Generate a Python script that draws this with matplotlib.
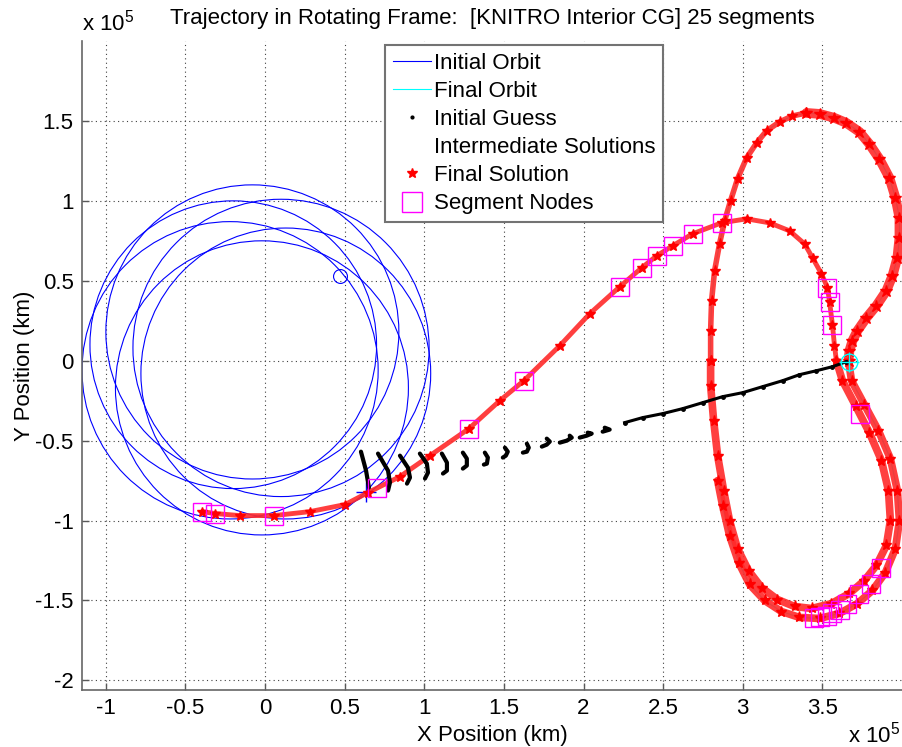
import numpy as np
import matplotlib.pyplot as plt
from matplotlib.patches import Circle
from matplotlib.lines import Line2D
from matplotlib.ticker import FuncFormatter

plt.rcParams['font.family'] = ['Liberation Sans', 'DejaVu Sans']
plt.rcParams['mathtext.fontset'] = 'custom'
plt.rcParams['mathtext.rm'] = 'Liberation Sans'
plt.rcParams['font.size'] = 16

SCALE = 1e5  # all values below are in units of 1e5 km

x_ticks = [-1, -0.5, 0, 0.5, 1, 1.5, 2, 2.5, 3, 3.5]
y_ticks = [-2, -1.5, -1, -0.5, 0, 0.5, 1, 1.5]

# initial (Earth) orbit loops: centres and radii
orbit_cx = [-0.08, 0.10, 0.13, -0.02, -0.22, -0.20]
orbit_cy = [0.18, 0.08, -0.08, -0.17, -0.06, 0.10]
orbit_r = [0.92, 0.93, 0.91, 0.92, 0.93, 0.90]
orbit_start = (0.47, 0.53)
orbit_end = (0.635, -0.823)
final_orbit_pt = (3.67, -0.005)

# final solution: Earth departure -> lunar approach
transfer_x = [-0.395, -0.314, -0.157, 0.056, 0.282, 0.502, 0.646, 0.847, 1.035, 1.280,
              1.474, 1.625, 1.851, 2.039, 2.227, 2.365, 2.459, 2.560, 2.685, 2.867,
              3.024, 3.168, 3.294, 3.388, 3.438, 3.494, 3.532, 3.545, 3.563, 3.576, 3.588]
transfer_y = [-0.944, -0.956, -0.969, -0.969, -0.944, -0.900, -0.825, -0.725, -0.594, -0.425,
              -0.250, -0.125, 0.094, 0.294, 0.4625, 0.581, 0.656, 0.719, 0.794, 0.8625,
              0.8875, 0.8625, 0.8125, 0.731, 0.644, 0.544, 0.456, 0.369, 0.225, 0.094, 0.0]

# final solution: first pass of the lower lunar loop
low1_x = [3.588, 3.626, 3.708, 3.795, 3.871, 3.915, 3.927, 3.902, 3.839, 3.764,
          3.670, 3.557, 3.432, 3.325, 3.218, 3.118, 3.036, 2.967, 2.917, 2.880,
          2.842, 2.817, 2.798, 2.798]
low1_y = [0.0, -0.125, -0.281, -0.450, -0.625, -0.8125, -1.0, -1.156, -1.281, -1.375,
          -1.456, -1.519, -1.550, -1.5375, -1.494, -1.419, -1.3125, -1.175, -1.0, -0.8125,
          -0.594, -0.375, -0.156, 0.0]
# upper lunar loop, rising (left) side
up_left_x = [2.798, 2.798, 2.804, 2.823, 2.854, 2.886, 2.923, 2.967, 3.024, 3.087, 3.149,
             3.231, 3.312, 3.400]
up_left_y = [0.0, 0.1875, 0.375, 0.5625, 0.731, 0.875, 1.0, 1.1375, 1.269, 1.3625, 1.4375,
             1.494, 1.531, 1.550]
# upper lunar loop, descending (right) side
up_right_x = [3.400, 3.482, 3.576, 3.651, 3.733, 3.795, 3.858, 3.921,
              3.959, 3.984, 3.984, 3.971, 3.940, 3.902, 3.839, 3.777, 3.720, 3.689,
              3.670, 3.664]
up_right_y = [1.550, 1.544, 1.519, 1.4875, 1.431, 1.356, 1.2625, 1.144,
              1.019, 0.894, 0.769, 0.644, 0.531, 0.4375, 0.344, 0.269, 0.1875, 0.125,
              0.0625, 0.0]
# second pass of the lower lunar loop
low2_x = [3.664, 3.683, 3.764, 3.852, 3.927, 3.971, 3.984, 3.959, 3.896, 3.814, 3.720,
          3.607, 3.482, 3.356, 3.243, 3.137, 3.043, 2.974, 2.917, 2.873, 2.842]
low2_y = [0.0, -0.125, -0.275, -0.4375, -0.6125, -0.8125, -1.0, -1.175, -1.325, -1.4375, -1.519,
          -1.581, -1.6125, -1.606, -1.569, -1.500, -1.400, -1.2625, -1.094, -0.906, -0.750]

# initial guess: short arcs per segment, then the continuous tail
guess_arcs_x = [[0.602, 0.634, 0.652], [0.709, 0.772, 0.784, 0.772],
                [0.847, 0.897, 0.910, 0.891], [0.972, 1.016, 1.023, 1.004],
                [1.110, 1.142, 1.142, 1.117], [1.242, 1.267, 1.267, 1.242],
                [1.380, 1.399, 1.393, 1.374], [1.506, 1.524, 1.512, 1.493],
                [1.644, 1.656, 1.644, 1.619], [1.769, 1.788, 1.769, 1.738],
                [1.913, 1.926, 1.895, 1.851], [2.026, 2.051, 2.020, 1.976],
                [2.133, 2.164, 2.120]]
guess_arcs_y = [[-0.569, -0.688, -0.794], [-0.581, -0.688, -0.7625, -0.8125],
                [-0.594, -0.669, -0.731, -0.769], [-0.581, -0.644, -0.700, -0.7375],
                [-0.581, -0.6375, -0.6875, -0.706], [-0.575, -0.6125, -0.656, -0.675],
                [-0.575, -0.606, -0.644, -0.650], [-0.544, -0.569, -0.594, -0.606],
                [-0.519, -0.544, -0.569, -0.575], [-0.4875, -0.506, -0.525, -0.5375],
                [-0.469, -0.481, -0.500, -0.5125], [-0.450, -0.456, -0.469, -0.481],
                [-0.419, -0.431, -0.444]]
guess_tail_x = [2.258, 2.371, 2.497, 2.622, 2.748, 2.873, 2.999, 3.124, 3.250, 3.356,
                3.463, 3.563, 3.651]
guess_tail_y = [-0.3875, -0.356, -0.331, -0.300, -0.2625, -0.225, -0.200, -0.1625, -0.125, -0.0875,
                -0.0625, -0.0375, -0.006]

# segment nodes
node_x = [-0.395, -0.314, 0.056, 0.703, 1.280, 1.625, 2.227, 2.365, 2.459, 2.560,
          2.685, 2.867, 3.532, 3.545, 3.563, 3.739, 3.871, 3.808, 3.733, 3.657,
          3.610, 3.563, 3.526, 3.482, 3.450]
node_y = [-0.944, -0.956, -0.969, -0.794, -0.425, -0.125, 0.4625, 0.581, 0.656, 0.719,
          0.794, 0.8625, 0.456, 0.369, 0.225, -0.331, -1.294, -1.400, -1.4625, -1.525,
          -1.5625, -1.580, -1.594, -1.606, -1.610]

S = lambda v: np.asarray(v) * SCALE

fig = plt.figure(figsize=(9.02, 7.47), dpi=100)
ax = fig.add_axes([82 / 902, 57 / 747, 820 / 902, 649 / 747])

# initial orbit
for cx, cy, r in zip(orbit_cx, orbit_cy, orbit_r):
    ax.add_patch(Circle((cx * SCALE, cy * SCALE), r * SCALE, fill=False,
                        ec='#0000ff', lw=0.8, zorder=2))
ax.plot(orbit_start[0] * SCALE, orbit_start[1] * SCALE, 'o', mfc='none', mec='#0000ff',
        ms=10, mew=0.8, zorder=2)
ax.plot(orbit_end[0] * SCALE, orbit_end[1] * SCALE, '+', color='#0000ff', ms=14, mew=1, zorder=2)

# final orbit (mostly hidden under the final solution)
for fx, fy in [(up_left_x, up_left_y), (up_right_x, up_right_y), (low2_x, low2_y)]:
    ax.plot(S(fx), S(fy), color='cyan', lw=0.8, zorder=2)

# final solution
red_parts = [(transfer_x, transfer_y, 3.5, 7), (low1_x, low1_y, 5.5, 8),
             (up_left_x, up_left_y, 4, 8), (up_right_x, up_right_y, 7, 9),
             (low2_x, low2_y, 5.5, 8)]
for px, py, lw, ms in red_parts:
    ax.plot(S(px), S(py), color='#ff2a2a', lw=lw, alpha=0.9, zorder=3,
            solid_joinstyle='round', solid_capstyle='round')
    ax.plot(S(px), S(py), '*', color='red', ms=ms, zorder=4)

# initial guess
for gx, gy in zip(guess_arcs_x, guess_arcs_y):
    ax.plot(S(gx), S(gy), color='black', lw=3, solid_capstyle='round', zorder=5)
ax.plot(S(guess_tail_x), S(guess_tail_y), color='black', lw=2.2, zorder=5)
ax.plot(S(guess_tail_x), S(guess_tail_y), '.', color='black', ms=5, zorder=5)

# final orbit marker
ax.plot(final_orbit_pt[0] * SCALE, final_orbit_pt[1] * SCALE, 'o', mfc='none', mec='cyan',
        ms=12, mew=1, zorder=6)
ax.plot(final_orbit_pt[0] * SCALE, final_orbit_pt[1] * SCALE, '+', color='cyan',
        ms=14, mew=1, zorder=6)

# segment nodes
ax.plot(S(node_x), S(node_y), 's', mfc='none', mec='#ff00ff', ms=13, mew=1, zorder=7)

ax.set_xlim(-1.15 * SCALE, 4.0 * SCALE)
ax.set_ylim(-2.06 * SCALE, 2.0 * SCALE)
ax.set_xticks(S(x_ticks))
ax.set_yticks(S(y_ticks))
fmt = FuncFormatter(lambda v, p: f'{v / SCALE:g}')
ax.xaxis.set_major_formatter(fmt)
ax.yaxis.set_major_formatter(fmt)
ax.tick_params(direction='in', length=5, width=1, color='0.35', labelsize=16, pad=6)
ax.grid(True, color='0.25', linestyle=(0, (1, 3)), lw=0.8)
ax.set_axisbelow(True)
for side in ['top', 'right']:
    ax.spines[side].set_visible(False)
for side in ['left', 'bottom']:
    ax.spines[side].set_color('0.4')
    ax.spines[side].set_linewidth(1.2)

ax.set_title('Trajectory in Rotating Frame:  [KNITRO Interior CG] 25 segments',
             fontsize=16, pad=12)
ax.set_xlabel('X Position (km)', fontsize=16, labelpad=4)
ax.set_ylabel('Y Position (km)', fontsize=16, labelpad=0)
fig.text(82 / 902, 1 - 30 / 747, r'x 10$^{5}$', fontsize=16, va='baseline')
fig.text(848 / 902, 5 / 747, r'x 10$^{5}$', fontsize=16, va='baseline')

handles = [
    Line2D([], [], color='#0000ff', lw=0.8),
    Line2D([], [], color='cyan', lw=0.8),
    Line2D([], [], ls='none', marker='.', color='black', ms=4),
    Line2D([], [], ls='none', marker='none'),
    Line2D([], [], ls='none', marker='*', color='red', ms=7),
    Line2D([], [], ls='none', marker='s', mfc='none', mec='#ff00ff', ms=14, mew=1),
]
labels = ['Initial Orbit', 'Final Orbit', 'Initial Guess', 'Intermediate Solutions',
          'Final Solution', 'Segment Nodes']
leg = fig.legend(handles, labels, loc='upper left', bbox_to_anchor=(385 / 902, 1 - 45 / 747),
                 fontsize=16, frameon=True, fancybox=False, framealpha=1, edgecolor='0.45',
                 borderpad=0.35, labelspacing=0.32, handlelength=1.7, handletextpad=0.15,
                 borderaxespad=0)
leg.get_frame().set_linewidth(1.5)

fig.savefig('out.png', dpi=100)
